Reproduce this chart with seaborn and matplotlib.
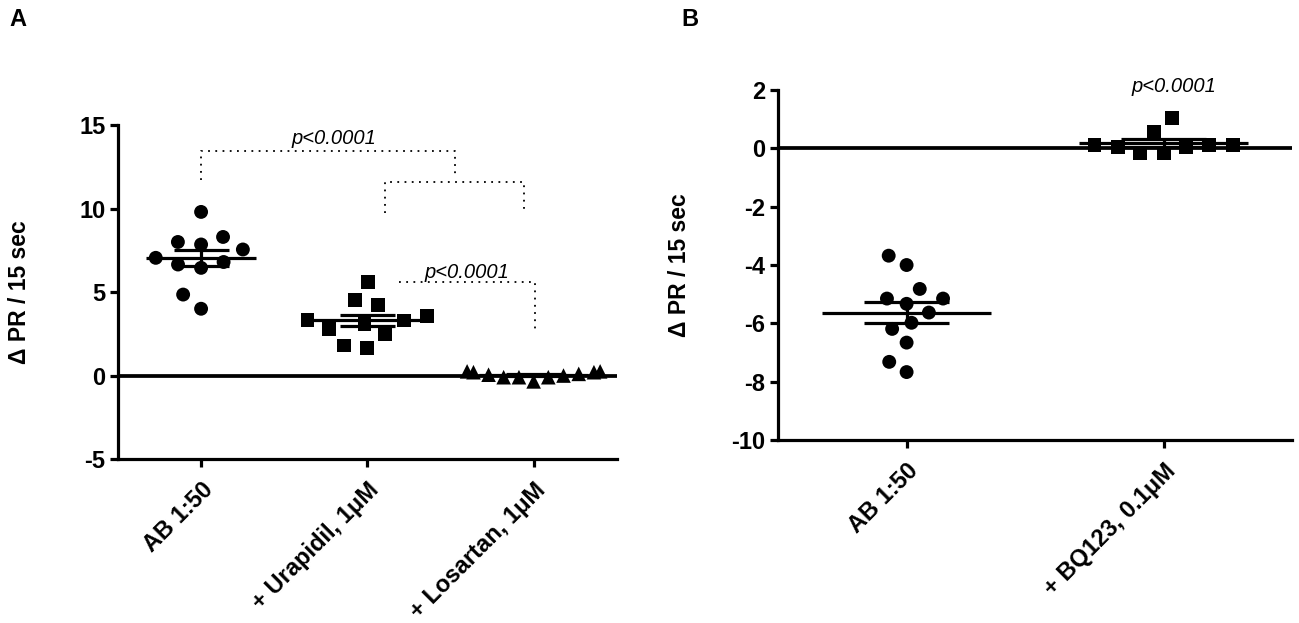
import numpy as np
import pandas as pd
import matplotlib
matplotlib.use("Agg")
import matplotlib.pyplot as plt
import seaborn as sns

# ---------------- data ----------------
cats_a = ["AB 1:50", "+ Urapidil, 1\u03bcM", "+ Losartan, 1\u03bcM"]
ab_a = [9.8, 8.3, 8.0, 7.85, 7.55, 7.05, 6.8, 6.65, 6.45, 4.85, 4.0]
urapidil = [5.6, 4.5, 4.2, 3.55, 3.35, 3.3, 3.1, 2.8, 2.5, 1.8, 1.65]
losartan = [0.05, -0.1, -0.1, 0.0, 0.1, 0.2, 0.25, 0.25, 0.2, -0.1, -0.35]

cats_b = ["AB 1:50", "+ BQ123, 0.1\u03bcM"]
ab_b = [-3.68, -4.0, -4.82, -5.15, -5.15, -5.33, -5.63, -5.98, -6.19, -6.66, -7.32, -7.67]
bq123 = [1.05, 0.55, 0.05, 0.1, 0.05, 0.1, -0.15, 0.1, -0.15]

ylabel = "\u0394 PR / 15 sec"
ptext = "p<0.0001"

# ---------------- style ----------------
sns.set_theme(style="ticks")
plt.rcParams["font.family"] = ["Liberation Sans", "DejaVu Sans"]
plt.rcParams["font.weight"] = "bold"
plt.rcParams["axes.unicode_minus"] = False
for k in ["text.color", "axes.labelcolor", "xtick.color", "ytick.color", "axes.edgecolor"]:
    plt.rcParams[k] = "black"

fig = plt.figure(figsize=(12.99, 6.23), dpi=100)
axA = fig.add_axes([0.0908, 0.2632, 0.384, 0.536])
axB = fig.add_axes([0.599, 0.2937, 0.3957, 0.5618])

LW = 2.3


def group_plot(ax, cats, groups, markers, sizes, gaps):
    for cat, vals, m, s, g in zip(cats, groups, markers, sizes, gaps):
        df = pd.DataFrame({"g": [cat] * len(vals), "v": vals})
        sns.swarmplot(data=df, x="g", y="v", order=cats, marker=m, color="black",
                      size=s, ax=ax, linewidth=g, zorder=3)
    # invisible edges: they only widen the swarm spacing
    for coll in ax.collections:
        coll.set_edgecolor("none")
    for i, vals in enumerate(groups):
        v = np.asarray(vals)
        mean = v.mean()
        sem = v.std(ddof=1) / np.sqrt(len(v))
        ax.hlines(mean, i - 0.33, i + 0.33, color="black", lw=LW, zorder=4)
        ax.hlines([mean - sem, mean + sem], i - 0.165, i + 0.165, color="black", lw=LW, zorder=4)
        ax.vlines(i, mean - sem, mean + sem, color="black", lw=LW, zorder=4)


def style_axes(ax, cats, ylim, yticks):
    ax.axhline(0, color="black", lw=LW + 0.4, zorder=2)
    ax.set_xlim(-0.5, len(cats) - 0.5)
    ax.set_ylim(*ylim)
    ax.set_yticks(yticks)
    ax.set_xticks(range(len(cats)))
    ax.set_xticklabels(cats, rotation=45, ha="right", va="top", rotation_mode="anchor",
                       fontsize=17, fontweight="bold")
    for lab in ax.get_yticklabels():
        lab.set_fontsize(17)
        lab.set_fontweight("bold")
    ax.set_xlabel("")
    ax.set_ylabel(ylabel, fontsize=16.5, fontweight="bold")
    for sp in ["top", "right"]:
        ax.spines[sp].set_visible(False)
    for sp in ["left", "bottom"]:
        ax.spines[sp].set_linewidth(LW)
        ax.spines[sp].set_color("black")
    ax.tick_params(axis="both", direction="out", length=6, width=LW, color="black",
                   labelcolor="black")
    ax.tick_params(axis="x", pad=8)
    ax.tick_params(axis="y", pad=3)
    ax.set_facecolor("white")


group_plot(axA, cats_a, [ab_a, urapidil, losartan], ["o", "s", "^"],
           [10, 10, 10.5], [6.0, 6.0, 0.0])
style_axes(axA, cats_a, (-5, 15), [-5, 0, 5, 10, 15])
axA.yaxis.set_label_coords(-0.175, 0.5)

group_plot(axB, cats_b, [ab_b, bq123], ["o", "s"], [10, 10], [4.0, 6.0])
style_axes(axB, cats_b, (-10, 2), [-10, -8, -6, -4, -2, 0, 2])
axB.yaxis.set_label_coords(-0.17, 0.5)

# significance brackets (panel A)
dot = dict(color="black", lw=1.3, linestyle=(0, (1, 3)), clip_on=False)
axA.plot([0.0, 0.0, 1.525, 1.525], [11.7, 13.46, 13.46, 12.0], **dot)
axA.plot([1.106, 1.106, 1.94, 1.94], [9.75, 11.57, 11.57, 9.75], **dot)
axA.plot([1.19, 2.01, 2.01], [5.62, 5.62, 2.72], **dot)
axA.text(0.80, 14.2, ptext, ha="center", va="center", fontsize=14.5, style="italic",
         fontweight="normal")
axA.text(1.6, 6.2, ptext, ha="center", va="center", fontsize=14.5, style="italic",
         fontweight="normal")
axB.text(1.04, 2.13, ptext, ha="center", va="center", fontsize=14.5, style="italic",
         fontweight="normal", clip_on=False)

fig.text(18 / 1299, 1 - 20 / 623, "A", fontsize=17, fontweight="bold", ha="center", va="center")
fig.text(690 / 1299, 1 - 20 / 623, "B", fontsize=17, fontweight="bold", ha="center", va="center")

fig.savefig("out.png", dpi=100, facecolor="white")
